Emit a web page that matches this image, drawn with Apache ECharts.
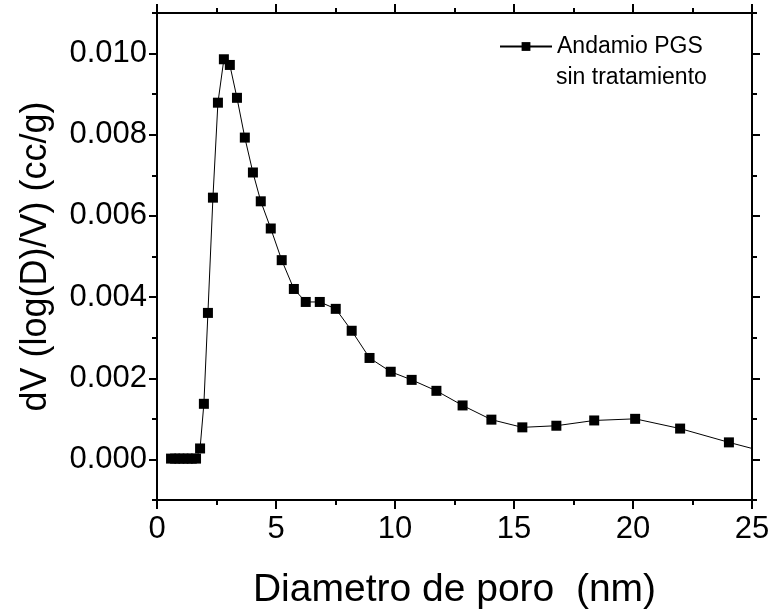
<!DOCTYPE html>
<html>
<head>
<meta charset="utf-8">
<script src="https://cdn.jsdelivr.net/npm/echarts@6/dist/echarts.min.js"></script>
<style>
html, body { margin: 0; padding: 0; background: #fff; }
#chart { width: 771px; height: 609px; }
</style>
</head>
<body>
<div id="chart"></div>
<script>
/* datos */
var poreDiameter = [0.59, 0.76, 0.94, 1.11, 1.29, 1.46, 1.64, 1.81, 1.97, 2.14, 2.35, 2.56, 2.81, 3.06, 3.36, 3.69, 4.03, 4.36, 4.78, 5.24, 5.75, 6.25, 6.84, 7.51, 8.18, 8.93, 9.82, 10.70, 11.74, 12.84, 14.05, 15.35, 16.78, 18.37, 20.09, 21.98, 24.03, 26.3];
var dvValues = [0.00002, 0.00002, 0.00002, 0.00002, 0.00002, 0.00002, 0.00002, 0.00027, 0.00137, 0.00361, 0.00645, 0.00879, 0.00986, 0.00972, 0.00891, 0.00793, 0.00707, 0.00636, 0.00569, 0.00491, 0.00420, 0.00388, 0.00388, 0.00371, 0.00317, 0.00250, 0.00216, 0.00196, 0.00169, 0.00133, 0.00098, 0.00079, 0.00083, 0.00096, 0.00100, 0.00076, 0.00042, 0.00007];
var yMajorTicks = [0, 0.002, 0.004, 0.006, 0.008, 0.010];
var yMinorTicks = [-0.001, 0.001, 0.003, 0.005, 0.007, 0.009, 0.011];
var seriesName = 'Andamio PGS sin tratamiento';

var fontFam = 'Liberation Sans, Arial, sans-serif';

var points = poreDiameter.map(function (d, i) {
	return [d, dvValues[i]];
});

function yAxisCfg(pos, showLabel, ticks, tickLen, withLine) {
	return {
		type: 'value',
		position: pos,
		min: -0.001,
		max: 0.011,
		interval: 0.001,
		axisLine: { show: withLine, onZero: false, lineStyle: { color: '#000', width: 2 } },
		axisTick: { show: true, customValues: ticks, length: tickLen, lineStyle: { color: '#000', width: 2 } },
		axisLabel: {
			show: showLabel,
			customValues: yMajorTicks,
			margin: 10,
			color: '#000',
			fontFamily: fontFam,
			fontSize: 31,
			formatter: function (v) { return v.toFixed(3); }
		},
		splitLine: { show: false },
		name: showLabel ? 'dV (log(D)/V) (cc/g)' : '',
		nameLocation: 'middle',
		nameGap: 103,
		nameTextStyle: { color: '#000', fontFamily: fontFam, fontSize: 36 }
	};
}

function xAxisCfg(pos, showLabel) {
	return {
		type: 'value',
		position: pos,
		min: 0,
		max: 25,
		interval: 5,
		axisLine: { show: true, onZero: false, lineStyle: { color: '#000', width: 2 } },
		axisTick: { show: true, length: 9, lineStyle: { color: '#000', width: 2 } },
		minorTick: { show: true, splitNumber: 2, length: 5, lineStyle: { color: '#000', width: 2 } },
		axisLabel: {
			show: showLabel,
			margin: 14,
			color: '#000',
			fontFamily: fontFam,
			fontSize: 31
		},
		splitLine: { show: false },
		minorSplitLine: { show: false },
		name: showLabel ? 'Diametro de poro  (nm)' : '',
		nameLocation: 'middle',
		nameGap: 71,
		nameTextStyle: { color: '#000', fontFamily: fontFam, fontSize: 39 }
	};
}

var option = {
	backgroundColor: '#fff',
	animation: false,
	grid: { left: 157, right: 19, top: 13, bottom: 109, containLabel: false, outerBoundsMode: 'none' },
	legend: {
		data: [seriesName],
		left: 499,
		top: 35,
		padding: 0,
		itemWidth: 52,
		itemHeight: 11,
		formatter: function () { return 'Andamio PGS'; },
		textStyle: { color: '#000', fontFamily: fontFam, fontSize: 23 }
	},
	graphic: [
		{
			type: 'text',
			left: 556,
			top: 66,
			style: { text: 'sin tratamiento', fill: '#000', font: '23px Liberation Sans, Arial, sans-serif' }
		}
	],
	xAxis: [xAxisCfg('bottom', true), xAxisCfg('top', false)],
	yAxis: [
		yAxisCfg('left', true, yMajorTicks, 8, true),
		yAxisCfg('left', false, yMinorTicks, 5, false),
		yAxisCfg('right', false, yMajorTicks, 8, true),
		yAxisCfg('right', false, yMinorTicks, 5, false)
	],
	series: [
		{
			name: seriesName,
			type: 'line',
			xAxisIndex: 0,
			yAxisIndex: 0,
			data: points,
			symbol: 'rect',
			symbolSize: 10,
			clip: true,
			lineStyle: { color: '#000', width: 1 },
			itemStyle: { color: '#000' }
		}
	]
};

var ichart = echarts.init(document.getElementById('chart'));
ichart.setOption(option);
</script>
</body>
</html>
